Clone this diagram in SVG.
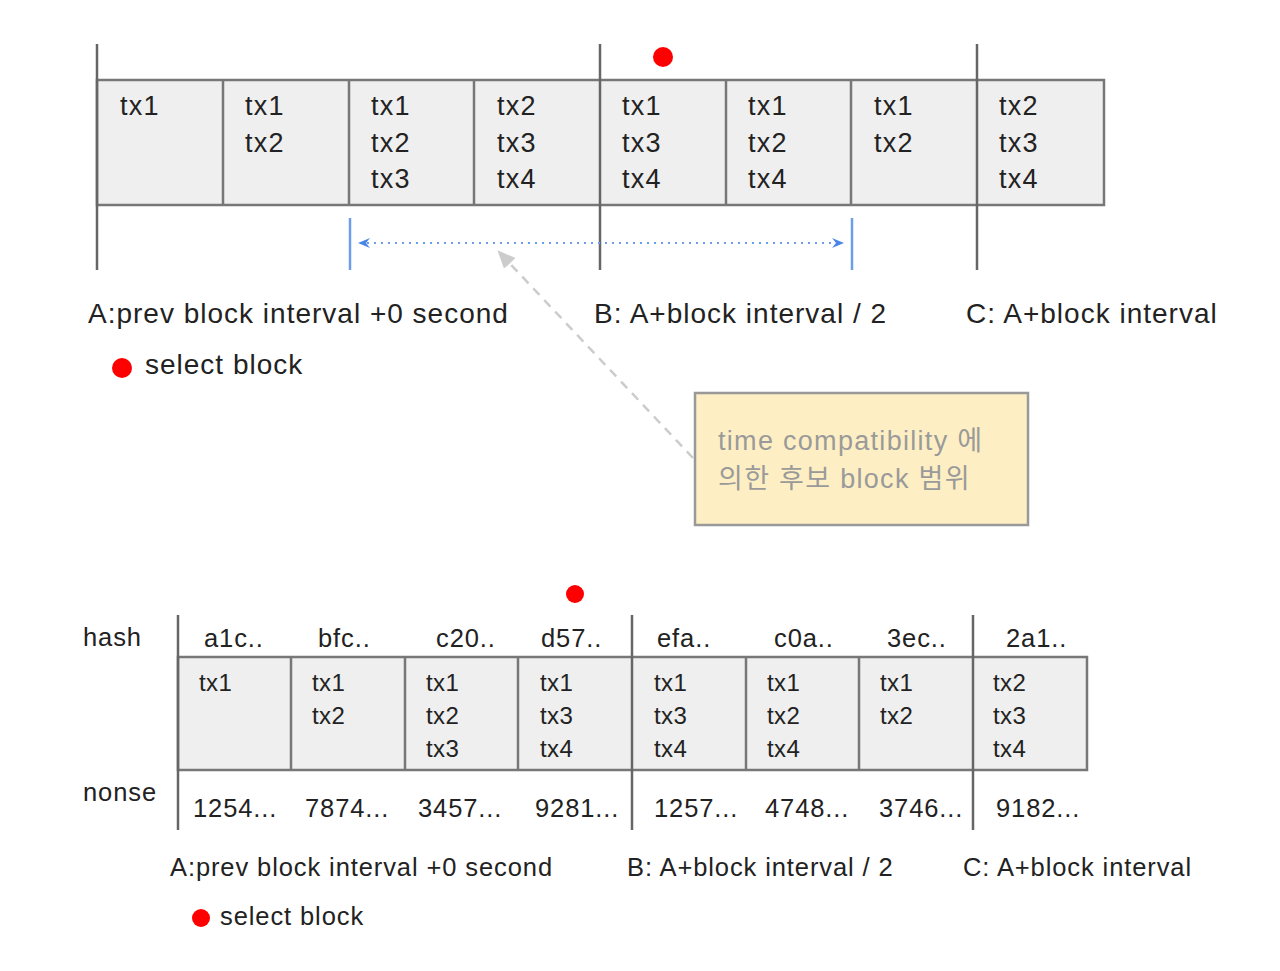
<svg xmlns="http://www.w3.org/2000/svg" width="1280" height="971" viewBox="0 0 1280 971">
<defs>
<style>
.t{font-family:"Liberation Sans",Arial,sans-serif;fill:#222}
.big{font-size:28px;letter-spacing:1px}
.ct{font-size:27px;letter-spacing:1.2px}
.sm{font-size:25.5px;letter-spacing:0.9px}
.cs{font-size:24px;letter-spacing:0.4px}
.cell{fill:#efefef;stroke:#777;stroke-width:2.5}
.div{stroke:#777;stroke-width:2.5}
.tick{stroke:#666;stroke-width:2.5}
.blue{stroke:#6d9eeb;stroke-width:2.5}
.note{font-family:"Liberation Sans","Noto Sans CJK KR",sans-serif;font-size:27px;letter-spacing:1.3px;fill:#9a9a9a}
</style>
<marker id="bh" viewBox="0 0 12 12" refX="10" refY="6" markerWidth="12" markerHeight="12" markerUnits="userSpaceOnUse" orient="auto-start-reverse">
<path d="M0,1 L12,6 L0,11 L4,6 Z" fill="#4a86e8"/>
</marker>
<marker id="gh" viewBox="0 0 16 16" refX="14" refY="8" markerWidth="18" markerHeight="18" markerUnits="userSpaceOnUse" orient="auto">
<path d="M0,1 L16,8 L0,15 Z" fill="#cccccc"/>
</marker>
</defs>
<rect width="1280" height="971" fill="#ffffff"/>

<g id="top-blocks">
<rect class="cell" x="97" y="80" width="1007" height="125"/>
<line class="div" x1="223" y1="80" x2="223" y2="205"/>
<line class="div" x1="349" y1="80" x2="349" y2="205"/>
<line class="div" x1="474" y1="80" x2="474" y2="205"/>
<line class="div" x1="726" y1="80" x2="726" y2="205"/>
<line class="div" x1="851" y1="80" x2="851" y2="205"/>
<g class="t ct">
<text x="120" y="115">tx1</text>
<text x="245" y="115">tx1</text><text x="245" y="152">tx2</text>
<text x="371" y="115">tx1</text><text x="371" y="152">tx2</text><text x="371" y="188">tx3</text>
<text x="497" y="115">tx2</text><text x="497" y="152">tx3</text><text x="497" y="188">tx4</text>
<text x="622" y="115">tx1</text><text x="622" y="152">tx3</text><text x="622" y="188">tx4</text>
<text x="748" y="115">tx1</text><text x="748" y="152">tx2</text><text x="748" y="188">tx4</text>
<text x="874" y="115">tx1</text><text x="874" y="152">tx2</text>
<text x="999" y="115">tx2</text><text x="999" y="152">tx3</text><text x="999" y="188">tx4</text>
</g>
</g>

<g id="top-ticks">
<line class="tick" x1="97" y1="44" x2="97" y2="270"/>
<line class="tick" x1="600" y1="44" x2="600" y2="270"/>
<line class="tick" x1="977" y1="44" x2="977" y2="270"/>
<line class="blue" x1="350" y1="218" x2="350" y2="270"/>
<line class="blue" x1="852" y1="218" x2="852" y2="270"/>
</g>

<g id="top-selected">
<circle cx="663" cy="57" r="10" fill="#ff0000"/>
</g>

<g id="top-labels" class="t big">
<text x="88" y="323">A:prev block interval +0 second</text>
<text x="594" y="323">B: A+block interval / 2</text>
<text x="966" y="323">C: A+block interval</text>
</g>

<g id="top-legend">
<circle cx="122" cy="368" r="10" fill="#ff0000"/>
<text class="t big" x="145" y="374">select block</text>
</g>

<g id="note">
<rect x="695" y="393" width="333" height="132" fill="#fdefc3" stroke="#999" stroke-width="2.5"/>
<text class="note" x="718" y="450">time compatibility 에</text>
<text class="note" x="718" y="488">의한 후보 block 범위</text>
</g>

<g id="connectors">
<line x1="360" y1="243" x2="842" y2="243" stroke="#6d9eeb" stroke-width="2" stroke-dasharray="2 5" marker-start="url(#bh)" marker-end="url(#bh)"/>
<line x1="693" y1="458" x2="499" y2="252" stroke="#cccccc" stroke-width="2.5" stroke-dasharray="9 7" marker-end="url(#gh)"/>
</g>

<g id="bottom-blocks">
<rect class="cell" x="178" y="657" width="909" height="113"/>
<line class="div" x1="291" y1="657" x2="291" y2="770"/>
<line class="div" x1="405" y1="657" x2="405" y2="770"/>
<line class="div" x1="518" y1="657" x2="518" y2="770"/>
<line class="div" x1="746" y1="657" x2="746" y2="770"/>
<line class="div" x1="859" y1="657" x2="859" y2="770"/>
<g class="t cs">
<text x="199" y="691">tx1</text>
<text x="312" y="691">tx1</text><text x="312" y="724">tx2</text>
<text x="426" y="691">tx1</text><text x="426" y="724">tx2</text><text x="426" y="757">tx3</text>
<text x="540" y="691">tx1</text><text x="540" y="724">tx3</text><text x="540" y="757">tx4</text>
<text x="654" y="691">tx1</text><text x="654" y="724">tx3</text><text x="654" y="757">tx4</text>
<text x="767" y="691">tx1</text><text x="767" y="724">tx2</text><text x="767" y="757">tx4</text>
<text x="880" y="691">tx1</text><text x="880" y="724">tx2</text>
<text x="993" y="691">tx2</text><text x="993" y="724">tx3</text><text x="993" y="757">tx4</text>
</g>
</g>

<g id="bottom-ticks">
<line class="tick" x1="178" y1="615" x2="178" y2="830"/>
<line class="tick" x1="632" y1="615" x2="632" y2="830"/>
<line class="tick" x1="973" y1="615" x2="973" y2="830"/>
</g>

<g id="bottom-hash" class="t sm">
<text x="83" y="646">hash</text>
<text x="204" y="647">a1c..</text>
<text x="318" y="647">bfc..</text>
<text x="436" y="647">c20..</text>
<text x="541" y="647">d57..</text>
<text x="657" y="647">efa..</text>
<text x="774" y="647">c0a..</text>
<text x="887" y="647">3ec..</text>
<text x="1006" y="647">2a1..</text>
</g>

<g id="bottom-nonce" class="t sm">
<text x="83" y="801">nonse</text>
<text x="193" y="817">1254...</text>
<text x="305" y="817">7874...</text>
<text x="418" y="817">3457...</text>
<text x="535" y="817">9281...</text>
<text x="654" y="817">1257...</text>
<text x="765" y="817">4748...</text>
<text x="879" y="817">3746...</text>
<text x="996" y="817">9182...</text>
</g>

<g id="bottom-selected">
<circle cx="575" cy="594" r="9" fill="#ff0000"/>
</g>

<g id="bottom-labels" class="t sm">
<text x="170" y="876">A:prev block interval +0 second</text>
<text x="627" y="876">B: A+block interval / 2</text>
<text x="963" y="876">C: A+block interval</text>
</g>

<g id="bottom-legend">
<circle cx="201" cy="918" r="9" fill="#ff0000"/>
<text class="t sm" x="220" y="925">select block</text>
</g>
</svg>
